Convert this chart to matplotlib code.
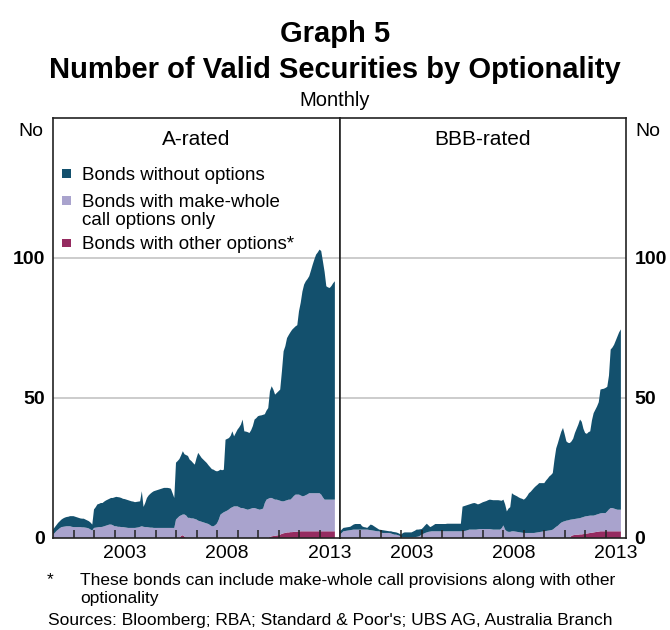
import numpy as np
import matplotlib
matplotlib.use("Agg")
import matplotlib.pyplot as plt
from matplotlib.patches import Rectangle

plt.rcParams['font.family'] = ['Liberation Sans', 'DejaVu Sans']

# monthly, Jan 2000 to Oct 2013 (tops of each band)
# A-rated
a_total = [
    3.0, 3.8, 4.6, 5.4, 6.0, 6.6, 7.0, 7.3, 7.5, 7.6, 7.8, 7.8,          # 2000
    7.8, 7.6, 7.4, 7.2, 7.0, 6.9, 6.9, 6.6, 6.3, 6.0, 5.5, 4.8,          # 2001
    10.2, 11.0, 12.0, 12.2, 12.5, 12.5, 13.0, 13.4, 13.7, 14.0, 14.3, 14.3,
    14.5, 14.7, 14.6, 14.5, 14.3, 14.0, 13.9, 13.7, 13.5, 13.3, 13.1, 13.0,
    12.8, 12.9, 13.0, 13.1, 16.7, 11.1, 12.5, 14.3, 15.2, 15.8, 16.3, 16.7,
    16.9, 17.1, 17.3, 17.5, 17.7, 17.9, 17.9, 17.9, 17.8, 17.6, 16.0, 14.3,
    26.9, 27.5, 28.2, 29.5, 31.0, 29.9, 29.6, 29.3, 28.0, 27.5, 26.8, 26.2,
    28.5, 30.4, 29.5, 28.6, 28.0, 27.4, 26.8, 26.0, 25.3, 24.6, 24.4, 24.0,
    23.8, 24.0, 24.4, 24.2, 24.4, 35.1, 35.4, 35.7, 36.5, 38.1, 36.3, 37.5,
    38.7, 39.5, 40.5, 42.3, 38.1, 38.0, 37.8, 37.5, 38.5, 40.0, 42.3, 42.8,
    43.5, 43.7, 43.8, 44.0, 44.2, 45.5, 46.4, 52.4, 54.2, 53.0, 51.2, 51.8,
    52.4, 53.0, 59.5, 66.7, 68.5, 71.4, 72.5, 73.5, 74.4, 75.0, 75.6, 76.0,
    81.0, 84.0, 88.0, 90.5, 91.7, 92.5, 93.5, 95.5, 97.6, 99.5, 101.2, 102.0,
    103.0, 102.5, 98.8, 95.0, 89.9, 89.5, 89.3, 90.0, 91.0, 91.7,          # 2013
]
a_mw_top = [
    1.2, 1.8, 2.5, 3.0, 3.5, 3.9, 4.0, 4.1, 4.2, 4.2, 4.2, 4.0,
    3.9, 3.9, 3.9, 3.9, 3.9, 3.8, 3.8, 3.7, 3.6, 3.4, 3.0, 2.7,
    3.6, 3.7, 3.8, 3.9, 3.9, 4.0, 4.2, 4.4, 4.6, 4.8, 4.8, 4.6,
    4.2, 4.2, 4.0, 4.0, 3.9, 3.9, 3.8, 3.7, 3.6, 3.6, 3.6, 3.6,
    3.6, 3.7, 3.8, 4.0, 4.2, 4.0, 3.9, 3.9, 3.8, 3.7, 3.7, 3.6,
    3.6, 3.6, 3.6, 3.6, 3.6, 3.6, 3.6, 3.6, 3.6, 3.6, 3.6, 3.6,
    6.6, 7.2, 7.8, 8.1, 8.4, 8.4, 8.0, 7.2, 7.2, 7.0, 7.0, 6.8,
    6.6, 6.2, 6.0, 5.8, 5.6, 5.4, 5.2, 5.0, 4.6, 4.2, 4.2, 4.6,
    5.2, 6.5, 8.3, 8.8, 9.2, 9.5, 9.8, 10.2, 10.7, 11.0, 11.3, 11.3,
    11.3, 11.0, 10.7, 10.7, 10.5, 10.3, 10.1, 10.3, 10.5, 10.7, 10.7, 10.5,
    10.3, 10.1, 10.3, 10.5, 12.5, 13.7, 14.0, 14.3, 14.3, 14.0, 13.7, 13.7,
    13.5, 13.3, 13.1, 13.1, 13.3, 13.5, 13.7, 13.7, 14.3, 15.0, 15.5, 15.5,
    15.5, 15.2, 14.9, 15.0, 15.3, 15.6, 16.0, 16.0, 16.0, 16.0, 16.0, 16.0,
    16.0, 15.5, 14.5, 13.7, 13.7, 13.7, 13.7, 13.7, 13.7, 13.7,
]
a_other = [0.0] * 12 * 6 + [
    0.0, 0.0, 0.0, 0.8, 1.0, 0.5, 0.0, 0.0, 0.0, 0.0, 0.0, 0.0,          # 2006
] + [0.0] * 12 * 3 + [
    0.0, 0.0, 0.0, 0.0, 0.0, 0.0, 0.0, 0.4, 0.6, 0.7, 0.8, 0.9,          # 2010
    1.0, 1.2, 1.5, 1.7, 1.8, 2.0, 2.0, 2.1, 2.1, 2.2, 2.2, 2.3,
    2.3, 2.4, 2.4, 2.4, 2.4, 2.4, 2.4, 2.4, 2.4, 2.4, 2.4, 2.4,
    2.4, 2.4, 2.4, 2.4, 2.4, 2.4, 2.4, 2.4, 2.4, 2.4,
]

# BBB-rated
b_total = [
    2.4, 3.0, 3.6, 3.7, 3.8, 3.9, 4.0, 4.4, 4.8, 5.0, 5.0, 5.0,
    5.0, 4.2, 3.9, 3.8, 3.6, 4.2, 4.8, 4.6, 4.2, 3.8, 3.4, 3.0,
    2.9, 2.8, 2.7, 2.6, 2.5, 2.4, 2.4, 2.2, 2.1, 2.0, 1.8, 1.5,
    1.2, 1.8, 2.0, 2.0, 2.0, 2.0, 2.0, 2.3, 2.6, 3.0, 3.0, 3.1,
    3.2, 3.8, 4.5, 5.1, 4.5, 3.9, 4.2, 4.6, 5.0, 5.0, 5.0, 5.0,
    5.0, 5.0, 5.0, 5.1, 5.1, 5.1, 5.1, 5.1, 5.1, 5.1, 5.1, 5.1,
    11.2, 11.4, 11.6, 11.8, 12.0, 12.2, 12.4, 12.5, 12.3, 12.0, 12.2, 12.5,
    12.8, 13.0, 13.2, 13.5, 13.7, 13.6, 13.5, 13.5, 13.5, 13.5, 13.4, 13.3,
    13.7, 12.0, 9.5, 10.5, 11.0, 16.0, 15.5, 15.2, 14.9, 14.5, 14.2, 14.0,
    13.7, 14.2, 15.0, 16.0, 16.5, 17.2, 17.9, 18.5, 19.0, 19.6, 19.6, 19.6,
    19.6, 20.5, 21.2, 22.0, 22.5, 23.2, 28.0, 32.0, 33.9, 36.0, 38.0, 39.3,
    37.0, 34.5, 34.0, 33.9, 34.5, 35.5, 37.5, 39.0, 40.5, 42.3, 41.5, 39.0,
    37.5, 37.2, 37.8, 38.1, 42.0, 44.6, 45.8, 47.0, 48.5, 53.0, 53.2, 53.3,
    53.6, 54.0, 58.0, 67.3, 68.0, 69.0, 70.5, 72.0, 73.5, 74.5,
]
b_mw_top = [
    1.2, 1.8, 2.4, 2.5, 2.6, 2.7, 2.8, 2.9, 3.0, 3.0, 3.0, 3.0,
    3.0, 3.0, 3.0, 3.0, 3.0, 2.9, 2.8, 2.7, 2.6, 2.5, 2.4, 2.4,
    2.0, 1.8, 1.8, 1.8, 1.8, 1.8, 1.6, 1.4, 1.2, 1.2, 1.0, 0.8,
    0.3, 0.2, 0.2, 0.2, 0.2, 0.2, 0.2, 0.2, 0.3, 0.4, 0.5, 0.8,
    1.2, 1.5, 1.8, 2.0, 2.2, 2.3, 2.4, 2.4, 2.4, 2.4, 2.4, 2.4,
    2.4, 2.4, 2.4, 2.4, 2.4, 2.4, 2.4, 2.4, 2.4, 2.4, 2.4, 2.4,
    2.4, 2.5, 2.6, 2.8, 3.0, 3.0, 3.0, 3.0, 3.0, 3.1, 3.2, 3.2,
    3.2, 3.2, 3.2, 3.2, 3.2, 3.1, 3.0, 3.0, 3.0, 3.0, 3.0, 3.5,
    4.5, 3.0, 2.4, 2.2, 2.2, 2.4, 2.4, 2.3, 2.2, 2.1, 2.0, 1.9,
    1.8, 1.8, 1.8, 1.8, 1.8, 1.8, 1.8, 1.9, 2.0, 2.1, 2.2, 2.3,
    2.4, 2.5, 2.6, 2.7, 2.8, 3.0, 3.5, 4.0, 4.4, 5.0, 5.5, 5.8,
    6.0, 6.2, 6.3, 6.5, 6.6, 6.7, 6.8, 6.9, 7.0, 7.1, 7.3, 7.5,
    7.7, 7.8, 7.9, 8.0, 8.0, 8.0, 8.2, 8.4, 8.6, 8.8, 8.9, 8.9,
    8.9, 9.5, 10.2, 10.7, 10.7, 10.5, 10.3, 10.1, 10.1, 10.1,
]
b_other = [0.0] * 12 * 11 + [
    0.0, 0.0, 0.0, 0.0, 0.8, 1.0, 1.1, 1.2, 1.2, 1.3, 1.3, 1.4,          # 2011
    1.5, 1.6, 1.7, 1.8, 1.9, 2.0, 2.1, 2.2, 2.3, 2.4, 2.4, 2.4,
    2.4, 2.4, 2.4, 2.4, 2.4, 2.4, 2.4, 2.4, 2.4, 2.4,
]

years = np.arange(2000, 2014)
label_years = [2003, 2008, 2013]
legend_labels = ['Bonds without options', 'Bonds with make-whole\ncall options only',
                 'Bonds with other options*']

c_teal = '#13506d'
c_lav = '#a9a3cd'
c_mag = '#952b60'

months = 2000 + np.arange(len(a_total)) / 12.0

W, H = 670, 630
fig = plt.figure(figsize=(6.7, 6.3), dpi=100)
ax1 = fig.add_axes([53 / W, 1 - 538 / H, 287 / W, 420 / H])
ax2 = fig.add_axes([340 / W, 1 - 538 / H, 286 / W, 420 / H])


def panel(ax, total, mw_top, other, title):
    total = np.array(total)
    mw_top = np.array(mw_top)
    other = np.array(other)
    ax.stackplot(months, other, mw_top - other, total - mw_top,
                 colors=[c_mag, c_lav, c_teal], linewidth=0)
    ax.set_xlim(2000, 2014)
    ax.set_ylim(0, 150)
    for v in [50, 100]:
        ax.axhline(v, color='#c4c4c4', lw=1.2, zorder=0)
    ax.set_xticks(years[1:])
    ax.set_xticklabels([])
    ax.tick_params(axis='x', which='major', direction='in', length=5.5, width=1.1, color='#222222')
    ax.set_xticks([y + 0.5 for y in label_years], minor=True)
    ax.set_xticklabels([str(y) for y in label_years], minor=True, fontsize=14)
    ax.tick_params(axis='x', which='minor', length=0, pad=5)
    ax.set_yticks([0, 50, 100])
    ax.set_yticklabels(['0', '50', '100'], fontsize=14, fontweight='bold')
    ax.tick_params(axis='y', length=0, pad=6)
    for s in ax.spines.values():
        s.set_linewidth(1.2)
        s.set_color('#222222')
    ax.text(0.5, 1 - 27 / 420, title, transform=ax.transAxes, ha='center',
            va='baseline', fontsize=15)


panel(ax1, a_total, a_mw_top, a_other, 'A-rated')
panel(ax2, b_total, b_mw_top, b_other, 'BBB-rated')
ax2.yaxis.tick_right()

# legend, placed by hand inside the A-rated panel
sq = 8.6
for lab, col, y_sq, y_txt in zip(legend_labels, [c_teal, c_lav, c_mag],
                                 [173.5, 200.5, 243], [180, 206.7, 249]):
    fig.add_artist(Rectangle(((66.3 - sq / 2) / W, 1 - (y_sq + sq / 2) / H), sq / W, sq / H,
                             transform=fig.transFigure, color=col, lw=0))
    fig.text(81.5 / W, 1 - y_txt / H, lab.split('\n')[0], ha='left', va='baseline', fontsize=13.5)
    if '\n' in lab:
        fig.text(81.5 / W, 1 - (y_txt + 18.5) / H, lab.split('\n')[1], ha='left',
                 va='baseline', fontsize=13.5)

fig.text(0.5, 1 - 41.7 / H, 'Graph 5', ha='center', va='baseline', fontsize=21, fontweight='bold')
fig.text(0.5, 1 - 78.3 / H, 'Number of Valid Securities by Optionality', ha='center',
         va='baseline', fontsize=21, fontweight='bold')
fig.text(0.5, 1 - 106.5 / H, 'Monthly', ha='center', va='baseline', fontsize=14.5)
fig.text(31 / W, 1 - 136 / H, 'No', ha='center', va='baseline', fontsize=14)
fig.text(648 / W, 1 - 136 / H, 'No', ha='center', va='baseline', fontsize=14)

fig.text(50 / W, 1 - 580 / H, '*', ha='center', va='center', fontsize=12.5)
fig.text(80 / W, 1 - 580 / H, 'These bonds can include make-whole call provisions along with other',
         ha='left', va='center', fontsize=12.5)
fig.text(80 / W, 1 - 599 / H, 'optionality', ha='left', va='center', fontsize=12.5)
fig.text(48 / W, 1 - 620 / H, "Sources: Bloomberg; RBA; Standard & Poor's; UBS AG, Australia Branch",
         ha='left', va='center', fontsize=12.5)

fig.savefig('out.png', dpi=100)
